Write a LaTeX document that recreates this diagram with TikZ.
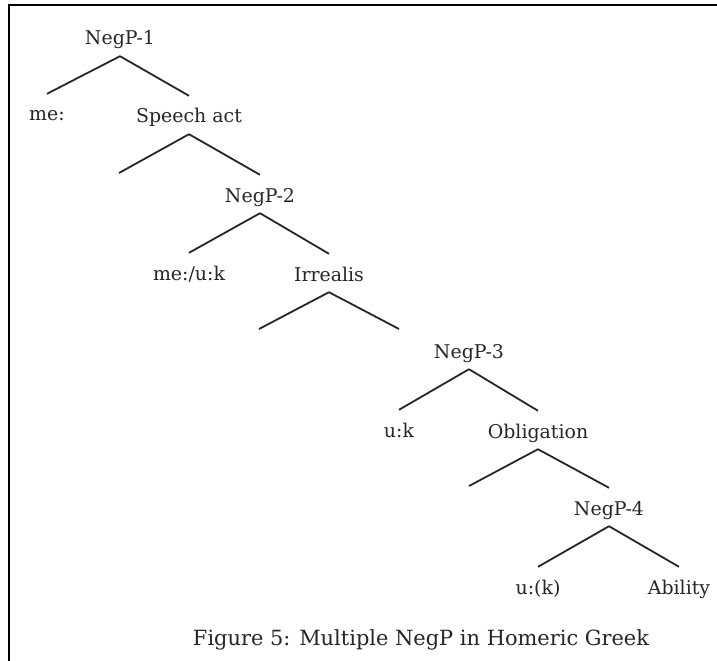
\documentclass[tikz,border=0pt]{standalone}
\usepackage{fontspec}
\setmainfont{DejaVu Serif}
\begin{document}
\begin{tikzpicture}[x=1bp,y=-1bp,
  lbl/.style={font=\fontsize{19}{22}\selectfont, text height=14bp, text depth=4bp, inner xsep=0pt, inner ysep=7bp, text=black!85},
  edge/.style={line width=1.8bp, black!85},
  frame/.style={line width=2bp, black}]
\useasboundingbox (0,0) rectangle (717,661);
\draw[frame] (9,662) -- (9,5) -- (718,5);
% nodes
\node[lbl] (n1) at (120,40) {NegP-1};
\node[lbl] (me) at (47,116) {me:};
\node[lbl] (sa) at (189,118) {Speech act};
\coordinate (e1) at (119,173);
\node[lbl] (n2) at (260,197) {NegP-2};
\node[lbl] (mu) at (189,275) {me:/u:k};
\node[lbl] (irr) at (329,276) {Irrealis};
\coordinate (e2) at (259,329);
\coordinate (e2r) at (399,329);
\node[lbl] (n3) at (469,353) {NegP-3};
\node[lbl] (uk) at (399,432) {u:k};
\node[lbl] (obl) at (538,433) {Obligation};
\coordinate (e3) at (469,486);
\node[lbl] (n4) at (609,510) {NegP-4};
\node[lbl] (uk2) at (538,589) {u:(k)};
\node[lbl] (ab) at (679,589) {Ability};
\node[font=\fontsize{21}{24}\selectfont, text=black!85] (cap) at (421,640) {Figure 5: Multiple NegP in Homeric Greek};
% edges
\draw[edge] (n1.south) -- ([yshift=6bp]me.north);
\draw[edge] (n1.south) -- ([yshift=6bp]sa.north);
\draw[edge] (sa.south) -- (e1);
\draw[edge] (sa.south) -- ([yshift=6bp]n2.north);
\draw[edge] (n2.south) -- ([yshift=6bp]mu.north);
\draw[edge] (n2.south) -- ([yshift=6bp]irr.north);
\draw[edge] (irr.south) -- (e2);
\draw[edge] (irr.south) -- (e2r);
\draw[edge] (n3.south) -- ([yshift=6bp]uk.north);
\draw[edge] (n3.south) -- ([yshift=6bp]obl.north);
\draw[edge] (obl.south) -- (e3);
\draw[edge] (obl.south) -- ([yshift=6bp]n4.north);
\draw[edge] (n4.south) -- ([yshift=6bp]uk2.north);
\draw[edge] (n4.south) -- ([yshift=6bp]ab.north);
\end{tikzpicture}
\end{document}
